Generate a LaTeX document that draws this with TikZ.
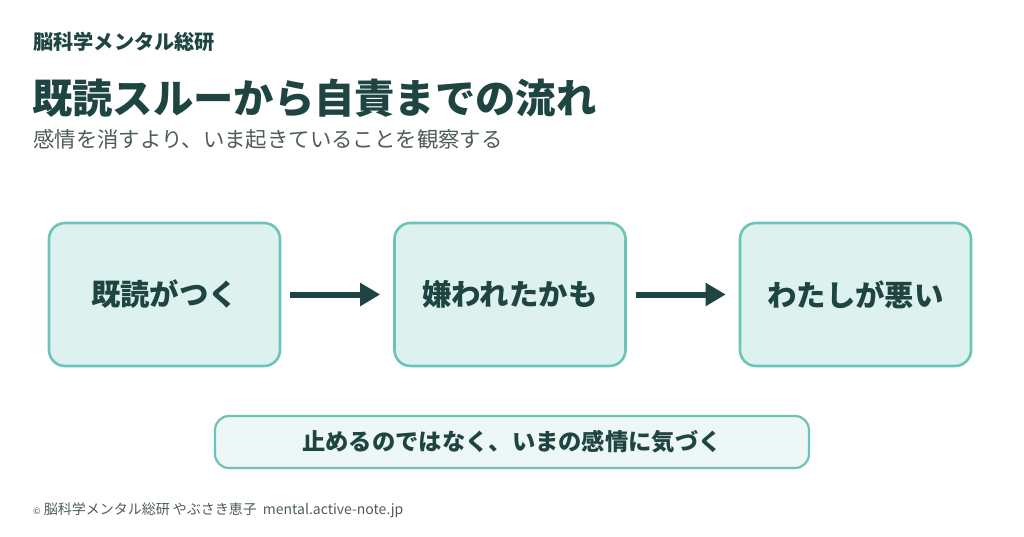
\documentclass[tikz,border=0pt]{standalone}
\usepackage{fontspec}
\setmainfont{Noto Sans CJK JP}
\usetikzlibrary{arrows.meta}
\definecolor{dark}{HTML}{1F4542}
\definecolor{gray1}{HTML}{4E5C5B}
\definecolor{boxline}{HTML}{6CC3B7}
\definecolor{boxfill}{HTML}{DDF2EE}
\definecolor{notefill}{HTML}{EDF7F5}
\tikzset{
  stepbox/.style={draw=boxline, fill=boxfill, line width=2.6pt, rounded corners=16pt,
    minimum width=231pt, minimum height=143pt, inner sep=0pt, text=dark,
    font=\fontsize{29.4}{32}\selectfont\bfseries},
  notebox/.style={draw=boxline, fill=notefill, line width=2.2pt, rounded corners=14pt,
    minimum width=594pt, minimum height=52pt, inner sep=0pt, text=dark,
    font=\fontsize{23.3}{26}\selectfont\bfseries},
  flow/.style={draw=dark, line width=6pt, -{Triangle[length=20pt,width=22pt]}},
  lbl/.style={anchor=west, inner sep=0pt},
}
\begin{document}
\begin{tikzpicture}[x=1pt,y=-1pt]
\useasboundingbox[fill=white] (0,0) rectangle (1024,536);
\node[lbl, text=dark, font=\fontsize{20.2}{22}\selectfont\bfseries] (hdr) at (33,42) {脳科学メンタル総研};
\node[lbl, text=dark, font=\fontsize{40.3}{44}\selectfont\bfseries] (ttl) at (32,98) {既読スルーから自責までの流れ};
\node[lbl, text=gray1, font=\fontsize{21.4}{24}\selectfont] (sub) at (33,139) {感情を消すより、いま起きていることを観察する};
\node[stepbox] (b1) at (164.5,294.5) {既読がつく};
\node[stepbox] (b2) at (510,294.5) {嫌われたかも};
\node[stepbox] (b3) at (855.5,294.5) {わたしが悪い};
\draw[flow, shorten <=9pt, shorten >=13pt] (b1.east) -- (b2.west);
\draw[flow, shorten <=9pt, shorten >=13pt] (b2.east) -- (b3.west);
\node[notebox] (note) at (512,442) {止めるのではなく、いまの感情に気づく};
\node[lbl, text=gray1, font=\fontsize{14}{16}\selectfont] (ftr) at (33,510) {{\fontsize{9}{10}\selectfont ©} 脳科学メンタル総研 やぶさき恵子\hspace{6pt}mental.active-note.jp};
\end{tikzpicture}
\end{document}
